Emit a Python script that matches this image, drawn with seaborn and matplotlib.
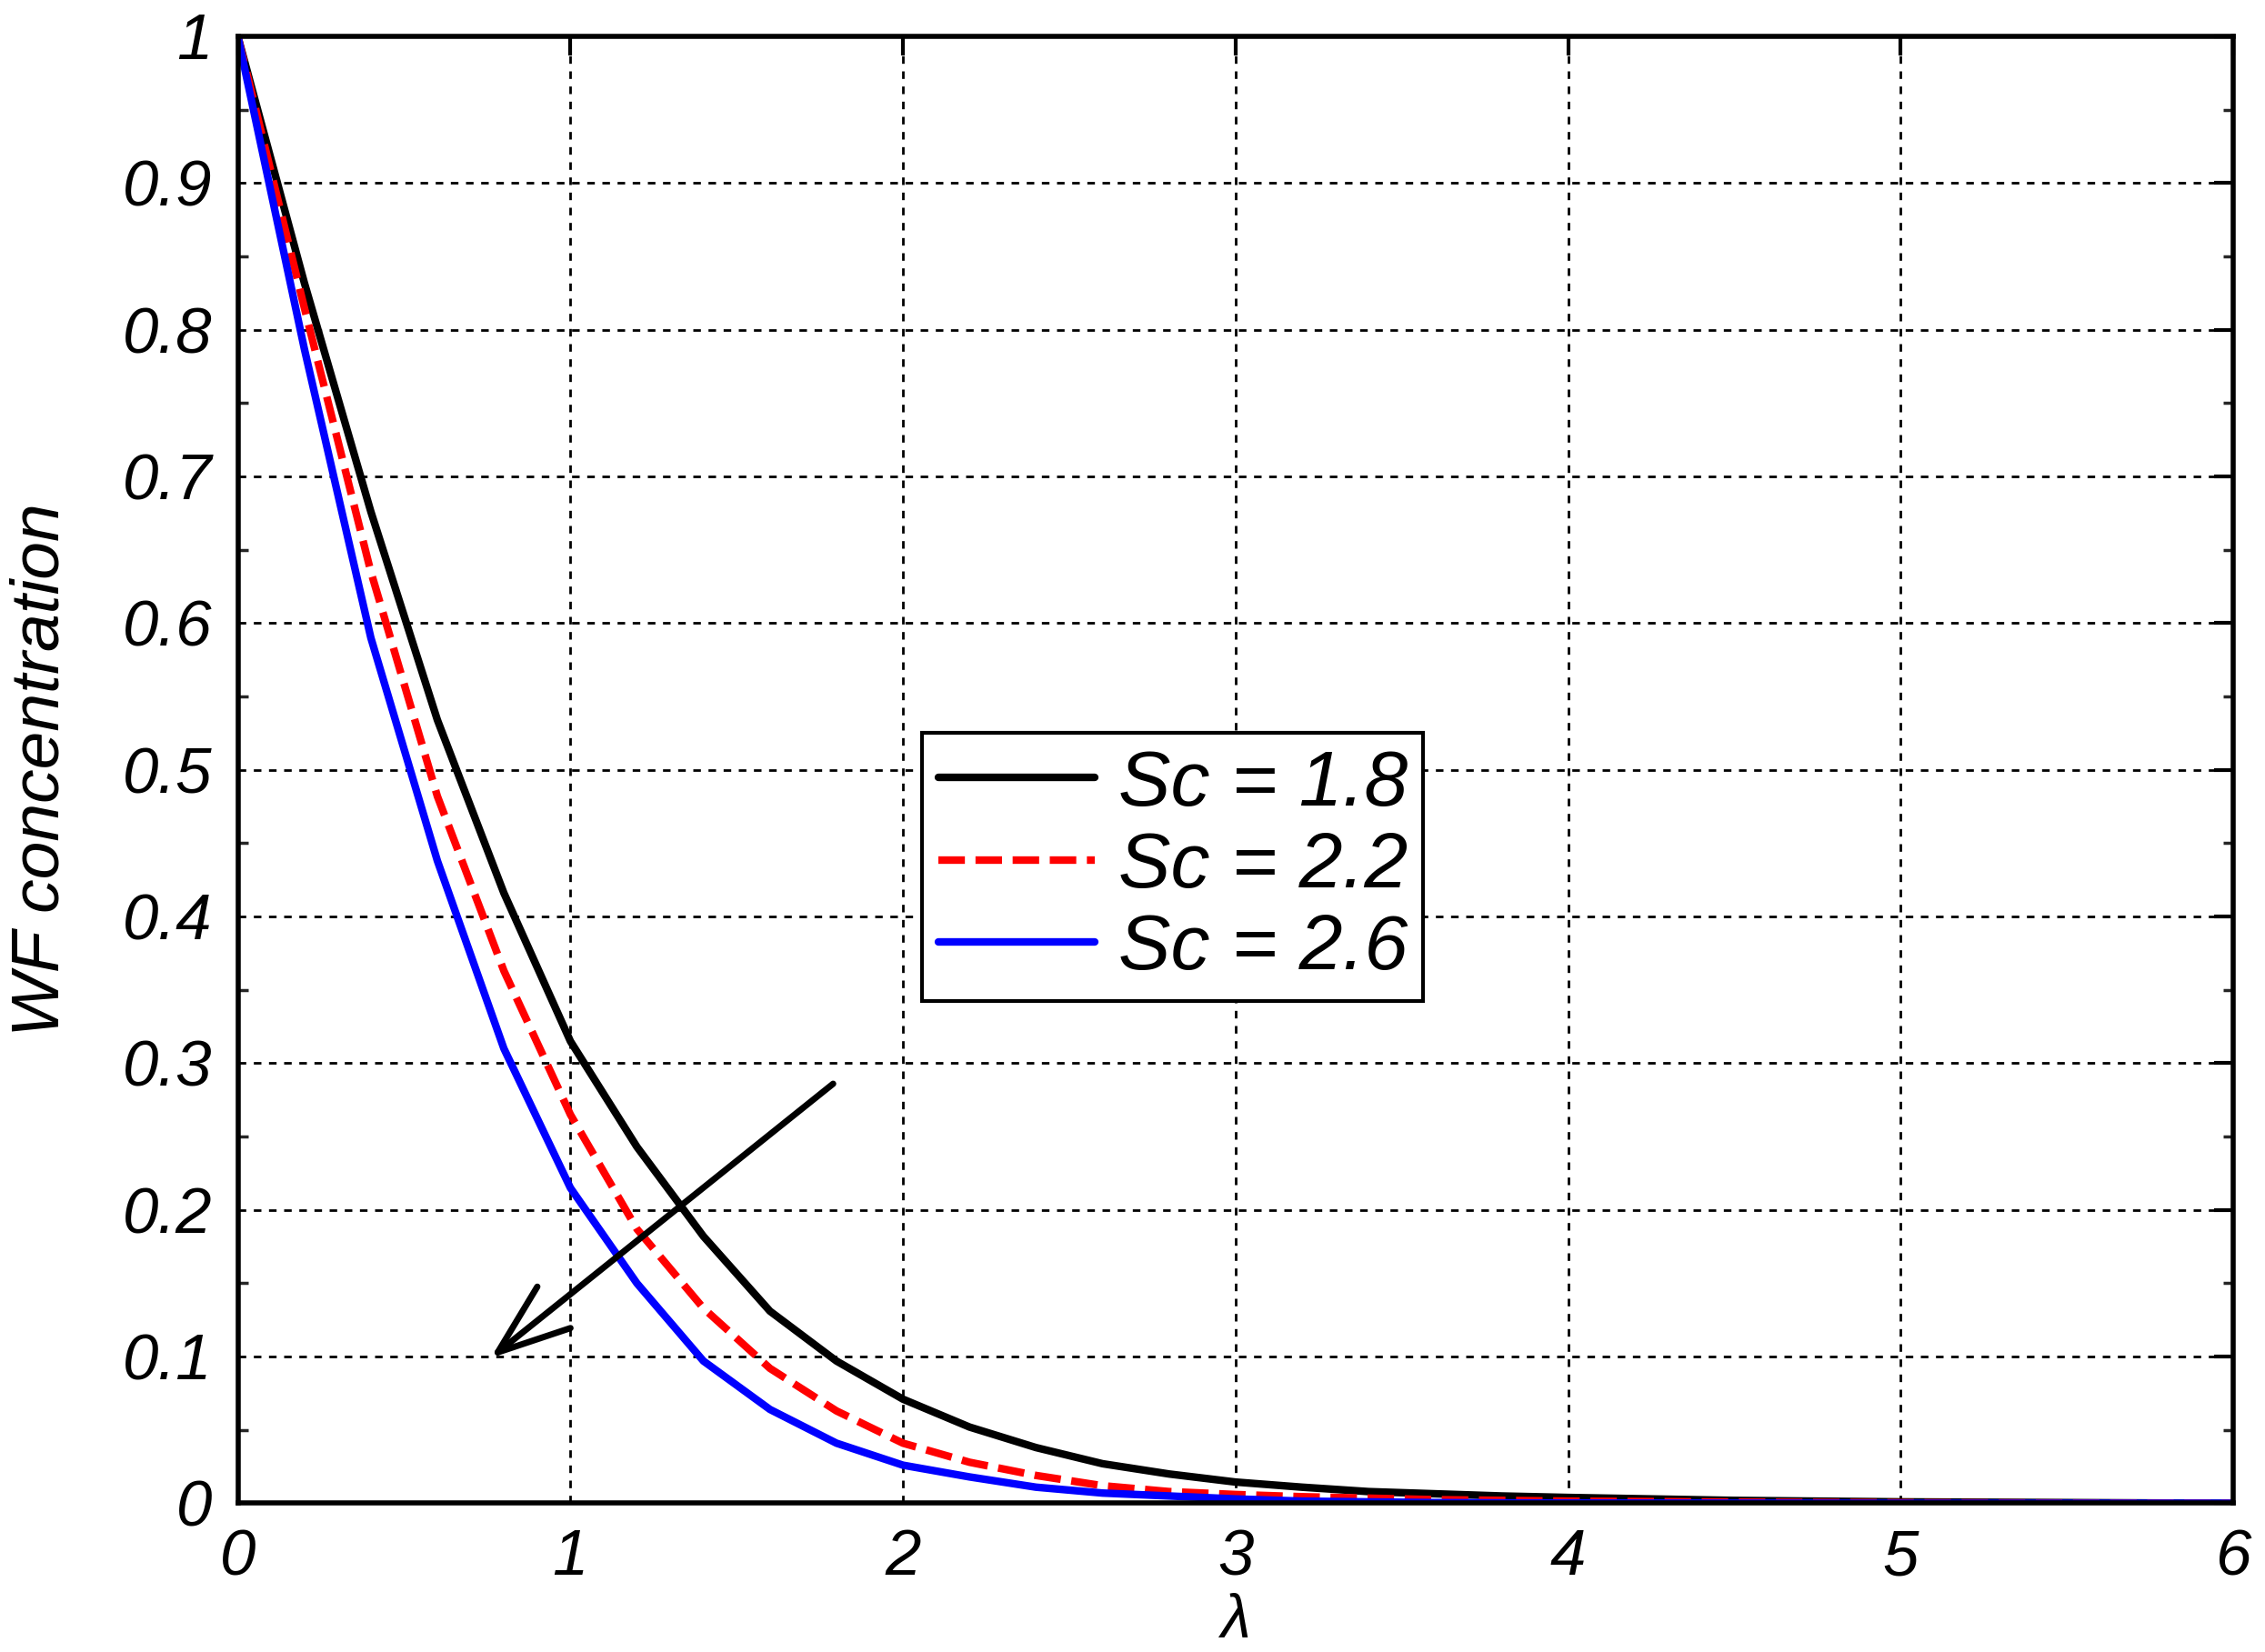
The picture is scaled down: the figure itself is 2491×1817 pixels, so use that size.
import numpy as np
import pandas as pd
import seaborn as sns
import matplotlib.pyplot as plt
from matplotlib.ticker import MultipleLocator

# values
lam = [0.0, 0.2, 0.4, 0.6, 0.8, 1.0, 1.2, 1.4, 1.6, 1.8, 2.0, 2.2, 2.4, 2.6, 2.8,
       3.0, 3.2, 3.4, 3.6, 3.8, 4.0, 4.5, 5.0, 5.5, 6.0]
sc_18 = [1.0, 0.832, 0.676, 0.534, 0.416, 0.315, 0.243, 0.182, 0.131, 0.097, 0.071,
         0.052, 0.038, 0.027, 0.020, 0.0145, 0.011, 0.008, 0.0065, 0.005, 0.004,
         0.002, 0.001, 0.0005, 0.0]
sc_22 = [1.0, 0.815, 0.635, 0.482, 0.363, 0.265, 0.187, 0.133, 0.092, 0.063, 0.041,
         0.028, 0.019, 0.012, 0.008, 0.006, 0.0045, 0.0035, 0.0025, 0.002, 0.0015,
         0.0008, 0.0004, 0.0002, 0.0]
sc_26 = [1.0, 0.787, 0.590, 0.438, 0.310, 0.215, 0.150, 0.097, 0.064, 0.041, 0.026,
         0.018, 0.011, 0.007, 0.005, 0.003, 0.0015, 0.001, 0.0005, 0.0003, 0.0002,
         0.0001, 0.0, 0.0, 0.0]
series_names = ['Sc = 1.8', 'Sc = 2.2', 'Sc = 2.6']
yticks = [0, 0.1, 0.2, 0.3, 0.4, 0.5, 0.6, 0.7, 0.8, 0.9, 1.0]
ytick_labels = ['0', '0.1', '0.2', '0.3', '0.4', '0.5', '0.6', '0.7', '0.8', '0.9', '1']
xticks = [0, 1, 2, 3, 4, 5, 6]

df = pd.DataFrame({
    'lam': lam * 3,
    'val': sc_18 + sc_22 + sc_26,
    'Sc': [series_names[0]] * len(lam) + [series_names[1]] * len(lam) + [series_names[2]] * len(lam),
})

sns.set_style('white')
plt.rcParams['font.family'] = ['Liberation Sans', 'DejaVu Sans']
plt.rcParams['text.color'] = 'black'
plt.rcParams['axes.labelcolor'] = 'black'

fig, ax = plt.subplots(figsize=(24.91, 18.17), dpi=100)
fig.subplots_adjust(left=0.105, right=0.986, bottom=0.090, top=0.978)

palette = {series_names[0]: '#000000', series_names[1]: '#ff0000', series_names[2]: '#0000ff'}
dashes = {series_names[0]: '', series_names[1]: (3.5, 1.4), series_names[2]: ''}
sns.lineplot(data=df, x='lam', y='val', hue='Sc', style='Sc', palette=palette,
             dashes=dashes, linewidth=6, ax=ax, sort=False)
for ln in ax.lines:
    ln.set_linewidth(6)

ax.set_xlim(0, 6)
ax.set_ylim(0, 1)
ax.set_xticks(xticks)
ax.set_xticklabels([str(t) for t in xticks])
ax.set_yticks(yticks)
ax.set_yticklabels(ytick_labels)
ax.yaxis.set_minor_locator(MultipleLocator(0.05))

ax.grid(True, which='major', color='black', linestyle=(0, (3, 3)), linewidth=2)
ax.tick_params(which='major', direction='in', top=True, right=True, length=15,
               width=3, labelsize=51, pad=20, colors='black')
ax.tick_params(axis='x', pad=20)
ax.tick_params(which='minor', direction='in', left=True, right=True, length=8, width=2.5)
for lbl in ax.get_xticklabels() + ax.get_yticklabels():
    lbl.set_style('italic')
for sp in ax.spines.values():
    sp.set_color('black')
    sp.set_linewidth(4)

ax.set_xlabel('λ', fontsize=48, style='italic', labelpad=4)
ax.set_ylabel('WF concentration', fontsize=54, style='italic')
ax.yaxis.set_label_coords(-0.083, 0.5)

handles, labels = ax.get_legend_handles_labels()
for h in handles:
    h.set_linewidth(6)
leg = ax.legend(handles, labels, loc='upper left', bbox_to_anchor=(0.343, 0.525),
                borderaxespad=0, handlelength=2.0, handletextpad=0.3,
                labelspacing=0.12, borderpad=0.2, fancybox=False, framealpha=1,
                edgecolor='black', prop={'style': 'italic', 'size': 62})
leg.get_frame().set_linewidth(3)
for t in leg.get_texts():
    t.set_color('black')

ax.annotate('', xy=(0.76, 0.099), xytext=(1.79, 0.286),
            arrowprops=dict(arrowstyle='->, head_length=0.57, head_width=0.21',
                            mutation_scale=100, lw=5, color='black',
                            shrinkA=0, shrinkB=0))

fig.savefig('out.png', dpi=100)
